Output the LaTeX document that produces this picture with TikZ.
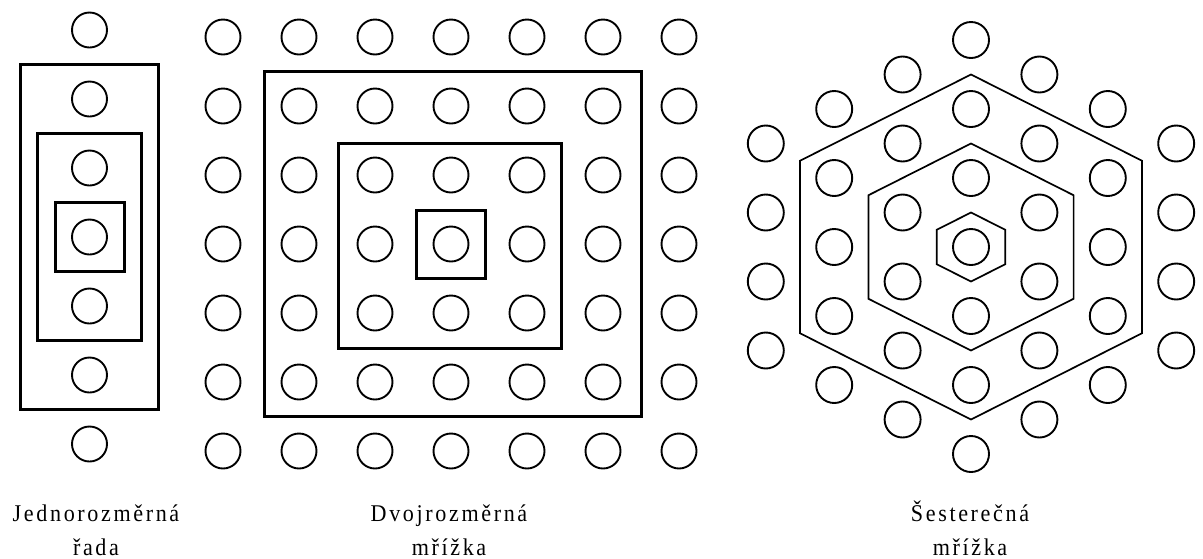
\documentclass[tikz,border=0pt]{standalone}
\usepackage{fontspec}
\setmainfont{Liberation Serif}
\newfontfamily\lblfont[FakeStretch=0.92,LetterSpace=11]{Liberation Serif}
\usetikzlibrary{positioning}

\begin{document}
\begin{tikzpicture}[
    x=1pt, y=-1pt,
    atom/.style={line width=1.9pt},
    frame/.style={line width=3pt},
    hexline/.style={line width=1.7pt},
    lbl/.style={font=\fontsize{24}{34}\lblfont, align=center, inner sep=0pt, anchor=base},
]
\useasboundingbox (0,0) rectangle (1203,558);

% one-dimensional row
\begin{scope}[shift={(89.5pt,-237pt)}, x=69pt, y=-69pt]
  \foreach \r in {-3,...,3}
    \draw[atom] (0,\r) circle[radius=17.5pt];
  \draw[frame] (-1,-2.5) rectangle (1,2.5);
  \draw[frame] (-0.75,-1.5) rectangle (0.75,1.5);
  \draw[frame] (-0.5,-0.5) rectangle (0.5,0.5);
\end{scope}

% square lattice
\begin{scope}[shift={(451pt,-244pt)}, x=76pt, y=-69pt]
  \foreach \c in {-3,...,3}
    \foreach \r in {-3,...,3}
      \draw[atom] (\c,\r) circle[radius=17.5pt];
  \draw[frame] (-2.45,-2.5) rectangle (2.5,2.5);
  \draw[frame] (-1.48,-1.45) rectangle (1.45,1.52);
  \draw[frame] (-0.46,-0.48) rectangle (0.45,0.5);
\end{scope}

% hexagonal lattice
\begin{scope}[shift={(971pt,-247pt)}, x=68.4pt, y=-69pt]
  \foreach \c in {-3,...,3}{
    \pgfmathtruncatemacro\nr{6-abs(\c)}
    \foreach \k in {0,...,\nr}
      \draw[atom] (\c,{\k-(6-abs(\c))/2}) circle[radius=18pt];
  }
  \foreach \s in {1,3,5}
    \draw[hexline] (0,-0.5*\s) -- (0.5*\s,-0.25*\s) -- (0.5*\s,0.25*\s)
      -- (0,0.5*\s) -- (-0.5*\s,0.25*\s) -- (-0.5*\s,-0.25*\s) -- cycle;
\end{scope}

% labels
\node[lbl] (rowlbl) at (96,555) {Jednorozměrná\\řada};
\node[lbl] (sqlbl) at (449,555) {Dvojrozměrná\\mřížka};
\node[lbl] (hexlbl) at (970,555) {Šesterečná\\mřížka};

\end{tikzpicture}
\end{document}
